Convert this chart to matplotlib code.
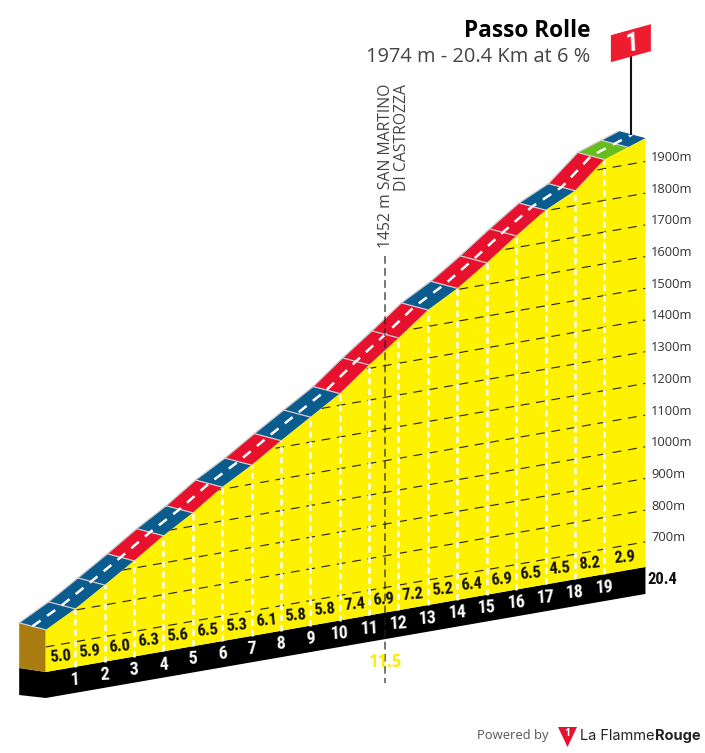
import numpy as np
import matplotlib
matplotlib.use('Agg')
import matplotlib.pyplot as plt
from matplotlib.patches import Polygon

# profile
km = [0, 1, 2, 3, 4, 5, 6, 7, 8, 9, 10, 11, 12, 13, 14, 15, 16, 17, 18, 19, 20.4]
elev = [754, 804, 863, 923, 986, 1042, 1107, 1160, 1221, 1279, 1337, 1411, 1480,
        1552, 1604, 1668, 1737, 1802, 1847, 1929, 1974]
grades = ['5.0', '5.9', '6.0', '6.3', '5.6', '6.5', '5.3', '6.1', '5.8', '5.8', '7.4',
          '6.9', '7.2', '5.2', '6.4', '6.9', '6.5', '4.5', '8.2', '2.9']
seg_colors = ['b', 'b', 'b', 'r', 'b', 'r', 'b', 'r', 'b', 'b', 'r',
              'r', 'r', 'b', 'r', 'r', 'r', 'b', 'r', 'g']
grid_levels = [700, 800, 900, 1000, 1100, 1200, 1300, 1400, 1500, 1600, 1700, 1800, 1900]
km_marks = [1, 2, 3, 4, 5, 6, 7, 8, 9, 10, 11, 12, 13, 14, 15, 16, 17, 18, 19]
green_end = 19.8  # last stretch turns blue here
passing_km = 11.5
passing_label = '1452 m SAN MARTINO\nDI CASTROZZA'

COLORS = {'b': '#0a5c8f', 'r': '#e8112d', 'g': '#66bd1c'}
YELLOW = '#fff200'
BASE = 621
DEPTH = (-26.5, -7)   # road / side depth in px
NARROW = ['Roboto Condensed', 'Liberation Sans Narrow', 'Roboto', 'DejaVu Sans']
SANS = ['Open Sans', 'DejaVu Sans']
LOGO = ['Inter', 'DejaVu Sans']


def proj(k, e):
    # oblique projection of (km, metres) to pixels
    k = np.asarray(k, dtype=float)
    e = np.asarray(e, dtype=float)
    return 45.7 + 29.4 * k, 672 - 5.15 * k - (e - BASE) * 0.317


def at(k, e, dx=0, dy=0):
    x, y = proj(k, e)
    return float(x) + dx, float(y) + dy


fig = plt.figure(figsize=(7.05, 7.53), dpi=100)
ax = fig.add_axes([0, 0, 1, 1])
ax.set_xlim(0, 705)
ax.set_ylim(753, 0)
ax.axis('off')

end = km[-1]
# black base and brown front side
black = [at(0, BASE), at(end, BASE), at(end, BASE, dy=27), at(0, BASE, dy=26),
         at(0, BASE, DEPTH[0], DEPTH[1] + 30), at(0, BASE, DEPTH[0], DEPTH[1] + 3)]
ax.add_patch(Polygon(black, closed=True, fc='black', ec='none', zorder=2))
side = [at(0, elev[0], *DEPTH), at(0, elev[0]), at(0, BASE), at(0, BASE, DEPTH[0], DEPTH[1] + 3)]
ax.add_patch(Polygon(side, closed=True, fc='#a87c0e', ec='none', zorder=3))

# yellow face
xs, ys = proj(km, elev)
x0, y0 = proj(km, BASE)
face = Polygon(list(zip(xs, ys)) + list(zip(x0[::-1], y0[::-1])), closed=True,
               fc=YELLOW, ec='none', zorder=3)
ax.add_patch(face)

# height grid, clipped to the yellow face
for lev in grid_levels:
    gx, gy = proj([0, end], [lev, lev])
    line, = ax.plot(gx, gy, color='#222200', lw=0.8, dashes=(8, 6), zorder=4)
    line.set_clip_path(face)
    ax.text(651, gy[1] - 4, f'{lev}m', fontsize=9.3, family=SANS, color='#333333',
            va='center', ha='left', zorder=6)

# km lines
for k in km_marks:
    e = np.interp(k, km, elev)
    vx, vy = proj([k, k], [BASE, e])
    ax.plot(vx, vy, color='white', lw=1.8, dashes=(2.5, 1.7), zorder=5)
    tx, ty = at(k, BASE, dy=13)
    ax.text(tx, ty, str(k), color='white', fontsize=13, fontweight='bold', family=NARROW,
            ha='center', va='center', rotation=3, zorder=6)

# gradient labels
for i, g in enumerate(grades):
    mid = (km[i] + km[i + 1]) / 2
    tx, ty = at(mid, BASE, dy=-13)
    ax.text(tx, ty, g, color='#111111', fontsize=12, fontweight='bold', family=NARROW,
            ha='center', va='center', rotation=5, zorder=6)
ax.text(*at(end, BASE, 17, 13), '20.4', color='#111111', fontsize=12, fontweight='bold',
        family=NARROW, ha='center', va='center', zorder=6)

# road band
for i, c in enumerate(seg_colors):
    if c == 'g':
        pieces = [(km[i], green_end, 'g'), (green_end, km[i + 1], 'b')]
    else:
        pieces = [(km[i], km[i + 1], c)]
    for a, b, col in pieces:
        ea, eb = np.interp([a, b], km, elev)
        quad = [at(a, ea), at(b, eb), at(b, eb, *DEPTH), at(a, ea, *DEPTH)]
        ax.add_patch(Polygon(quad, closed=True, fc=COLORS[col], ec='none', zorder=7))
        # back edge and km divider in light grey, none along the yellow side
        ax.plot(*zip(at(a, ea, *DEPTH), at(b, eb, *DEPTH)), color='#c8c8c8', lw=0.9, zorder=7.5)
        ax.plot(*zip(at(a, ea), at(a, ea, *DEPTH)), color='#d4ccd0', lw=0.9, zorder=7.5)
# centre line of the road
cx = xs + DEPTH[0] / 2
cy = ys + DEPTH[1] / 2
ax.plot(cx, cy, color='white', lw=1.8, dashes=(4, 3.2), zorder=8)

# passing point
e_pass = np.interp(passing_km, km, elev)
px, _ = proj(passing_km, e_pass)
px += 1
ax.plot([px, px], [256, 683], color='#222222', alpha=0.62, lw=1.4, dashes=(4, 2.2), zorder=8)
ax.text(px + 6, 248, passing_label, rotation=90, ha='left', va='bottom', multialignment='right',
        fontsize=11.3, family=SANS, color='#444444', linespacing=1.0, zorder=9,
        rotation_mode='default', transform=ax.transData).set_x(px - 7)
ax.text(px, 662, '11.5', color='#ffee00', fontsize=12, fontweight='bold', family=SANS,
        ha='center', va='center', zorder=9)

# title
ax.text(590, 31, 'Passo Rolle', fontsize=16.3, fontweight='bold', family=SANS, color='black',
        ha='right', va='center', zorder=9)
ax.text(590, 57, '1974 m - 20.4 Km at 6 %', fontsize=14.4, family=SANS, color='#444444',
        ha='right', va='center', zorder=9)

# finish flag
top_x, top_y = at(end, elev[-1], DEPTH[0] * 0.55, DEPTH[1] * 0.55)
ax.plot([top_x, top_x], [top_y, top_y - 80], color='#111111', lw=1.5, zorder=9)
ax.add_patch(Polygon([(top_x - 20, top_y - 99), (top_x + 20, top_y - 110),
                      (top_x + 20, top_y - 83), (top_x - 20, top_y - 72)],
                     closed=True, fc='#ed1c2e', ec='none', zorder=10))
ax.text(top_x + 1, top_y - 91, '1', color='white', fontsize=19, fontweight='bold', family=NARROW,
        ha='center', va='center', rotation=3, zorder=11)

# footer
ax.text(477, 736, 'Powered by', fontsize=9.4, family=SANS, color='#555555', va='center', zorder=9)
ax.add_patch(Polygon([(558, 727), (577, 727), (567.5, 747)], closed=True, fc='#e8112d',
                     ec='none', zorder=9))
ax.text(567.5, 734, '1', color='white', fontsize=7.5, fontweight='bold', family=SANS,
        ha='center', va='center', zorder=10)
t1 = ax.text(580, 736, 'La Flamme', fontsize=10.5, family=LOGO, color='#222222',
             va='center', zorder=9)
ax.annotate('Rouge', xy=(1, 0.5), xycoords=t1, va='center', fontsize=10.5, fontweight='bold',
            family=LOGO, color='#222222', zorder=9)

fig.savefig('out.png', dpi=100)
